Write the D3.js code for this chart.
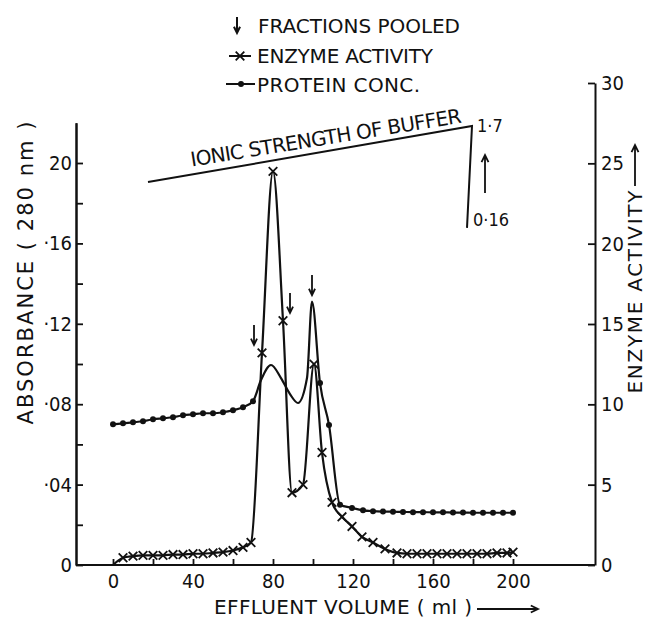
<!DOCTYPE html>
<html><head><meta charset="utf-8">
<script src="https://cdn.jsdelivr.net/npm/d3@7"></script>
<style>
html,body{margin:0;padding:0;background:#fff;}
svg{display:block;}
text{font-family:"DejaVu Sans","Noto Sans",sans-serif;fill:#111;}
.tick text{font-family:"DejaVu Sans Condensed","DejaVu Sans",sans-serif;}
</style>
</head><body>
<svg id="c" width="647" height="627"></svg>
<script>
// ---------- data ----------
const proteinVolume = [0,5,10,15,20,25,30,35,40,45,50,55,60,65,70,74,79,84,88.5,92.5,97,99.5,103.5,108,113.5,119.5,125,130,135,140,145,150,155,160,165,170,175,180,185,190,195,200];
const proteinAbsorbance = [0.070,0.0705,0.071,0.0715,0.0725,0.073,0.0735,0.0745,0.075,0.0755,0.0755,0.076,0.077,0.0785,0.0815,0.092,0.0995,0.093,0.085,0.0806,0.093,0.131,0.0905,0.0697,0.030,0.0284,0.0272,0.0268,0.0266,0.0265,0.0264,0.0263,0.0263,0.0262,0.0262,0.0261,0.0261,0.026,0.026,0.026,0.026,0.026];
// fractions shown with a dot marker (the peak region is drawn as a plain curve)
const proteinMarkedRange = [[0,70],[103,200]];

const enzymeVolume = [0,5,10,15,20,25,30,35,40,45,50,55,60,65,69,74.5,80,85,89.5,95,100.5,104.5,109.5,114.5,119.5,124.5,130,136,142,147,152,157,162,167,172,177,182,187,192,197,200];
const enzymeActivity = [0,0.45,0.55,0.6,0.6,0.6,0.65,0.65,0.7,0.7,0.75,0.8,0.9,1.1,1.4,13.2,24.5,15.2,4.5,5.0,12.5,7.0,3.9,3.0,2.4,1.75,1.4,1.0,0.75,0.7,0.7,0.7,0.7,0.7,0.7,0.7,0.7,0.7,0.75,0.75,0.8];

const xTicks = [0,40,80,120,160,200];
const xMinorTicks = [20,60,100,140,180];
const leftTicks = [0,0.04,0.08,0.12,0.16,0.20];
const leftTickLabels = ["0","·04","·08","·12","·16","20"];
const leftMinorTicks = [0.02,0.06,0.10,0.14,0.18];
const rightTicks = [0,5,10,15,20,25,30];

const fractionVolume = [70.5,88.5,99.5];
const fractionAbsorbance = [0.1095,0.1254,0.1343];

const ionicVolume = [17.5,179.5,177];
const ionicAbsorbance = [0.1905,0.2184,0.1677];
const ionicLabels = ["1·7","0·16"];

const legendLabels = ["FRACTIONS POOLED","ENZYME ACTIVITY","PROTEIN CONC."];
const xTitle = "EFFLUENT VOLUME ( ml )";
const leftTitle = "ABSORBANCE ( 280 nm )";
const rightTitle = "ENZYME  ACTIVITY";
const ionicTitle = "IONIC STRENGTH OF BUFFER";

// ---------- layout ----------
const svg = d3.select("#c");
const ink = "#111";
const axisLeftX = 76, axisRightX = 595, baseY = 565;
const x = d3.scaleLinear().domain([0,200]).range([113,513]);
const yL = d3.scaleLinear().domain([0,0.2]).range([baseY,163]);
const yR = d3.scaleLinear().domain([0,30]).range([baseY,83]);

function styleAxis(g){
  g.selectAll("path.domain").attr("stroke",ink).attr("stroke-width",2);
  g.selectAll(".tick line").attr("stroke",ink).attr("stroke-width",1.8);
  g.selectAll(".tick text").attr("fill",ink).attr("font-size",20);
}

// left axis (ticks inward)
const yLfull = yL.copy().domain([0,0.22]).range([baseY, yL(0.22)]);
svg.append("g").attr("transform",`translate(${axisLeftX},0)`)
  .call(d3.axisLeft(yLfull).tickValues(leftTicks).tickSizeInner(-7).tickSizeOuter(0).tickPadding(4)
    .tickFormat((d,i)=>leftTickLabels[i]))
  .call(styleAxis);
svg.append("g").attr("transform",`translate(${axisLeftX},0)`)
  .call(d3.axisLeft(yLfull).tickValues(leftMinorTicks).tickSizeInner(-7).tickSizeOuter(0).tickFormat(""))
  .call(styleAxis);

// right axis
svg.append("g").attr("transform",`translate(${axisRightX},0)`)
  .call(d3.axisRight(yR).tickValues(rightTicks).tickSizeInner(-7).tickSizeOuter(0).tickPadding(6)
    .tickFormat(d3.format("d")))
  .call(styleAxis);

// bottom axis
svg.append("line").attr("x1",axisLeftX).attr("x2",axisRightX).attr("y1",baseY).attr("y2",baseY)
  .attr("stroke",ink).attr("stroke-width",2);
const gx = svg.append("g").attr("transform",`translate(0,${baseY})`)
  .call(d3.axisBottom(x).tickValues(xTicks).tickSizeInner(-6).tickSizeOuter(0).tickPadding(9).tickFormat(d3.format("d")))
  .call(styleAxis);
gx.select("path.domain").remove();
const gxm = svg.append("g").attr("transform",`translate(0,${baseY})`)
  .call(d3.axisBottom(x).tickValues(xMinorTicks).tickSizeInner(-6).tickSizeOuter(0).tickFormat(""))
  .call(styleAxis);
gxm.select("path.domain").remove();

// titles
svg.append("text").attr("x",214).attr("y",614).attr("font-size",20)
  .attr("textLength",258).attr("lengthAdjust","spacing").text(xTitle);
function arrowPath(x1,y1,x2,y2,h){
  const a = Math.atan2(y2-y1,x2-x1), s=0.45;
  return `M${x1},${y1}L${x2},${y2}M${x2-h*Math.cos(a-s)},${y2-h*Math.sin(a-s)}L${x2},${y2}L${x2-h*Math.cos(a+s)},${y2-h*Math.sin(a+s)}`;
}
svg.append("path").attr("d",arrowPath(477,609,538,609,8)).attr("stroke",ink).attr("stroke-width",1.8).attr("fill","none");

svg.append("text").attr("transform","translate(33,273) rotate(-90)").attr("text-anchor","middle")
  .attr("font-size",21).attr("textLength",303).attr("lengthAdjust","spacing").text(leftTitle);
svg.append("text").attr("transform","translate(642,292) rotate(-90)").attr("text-anchor","middle")
  .attr("font-size",20).attr("textLength",203).attr("lengthAdjust","spacing").text(rightTitle);
svg.append("path").attr("d",arrowPath(635,186,635,145,8)).attr("stroke",ink).attr("stroke-width",1.8).attr("fill","none");

// ionic strength line
const ionicPts = ionicVolume.map((v,i)=>[x(v),yL(ionicAbsorbance[i])]);
svg.append("path").attr("d",d3.line()(ionicPts)).attr("stroke",ink).attr("stroke-width",2).attr("fill","none");
const ang = Math.atan2(ionicPts[1][1]-ionicPts[0][1], ionicPts[1][0]-ionicPts[0][0])*180/Math.PI;
{
  const t = 0.135;
  const px = ionicPts[0][0] + t*(ionicPts[1][0]-ionicPts[0][0]);
  const py = ionicPts[0][1] + t*(ionicPts[1][1]-ionicPts[0][1]) - 8;
  svg.append("text").attr("transform",`translate(${px},${py}) rotate(${ang+0.6})`)
    .attr("font-size",20).attr("textLength",274).attr("lengthAdjust","spacing").text(ionicTitle);
}
svg.append("text").attr("x",ionicPts[1][0]+5).attr("y",ionicPts[1][1]+6).attr("font-size",18)
  .style("font-family","'DejaVu Sans Condensed','DejaVu Sans',sans-serif").text(ionicLabels[0]);
svg.append("text").attr("x",ionicPts[2][0]+6).attr("y",ionicPts[2][1]-2).attr("font-size",18)
  .style("font-family","'DejaVu Sans Condensed','DejaVu Sans',sans-serif").text(ionicLabels[1]);
svg.append("path").attr("d",arrowPath(ionicPts[1][0]+13,ionicPts[2][1]-35,ionicPts[1][0]+13,ionicPts[1][1]+29,8))
  .attr("stroke",ink).attr("stroke-width",1.8).attr("fill","none");

// curves
const protein = proteinVolume.map((v,i)=>[v,proteinAbsorbance[i]]);
const enzyme = enzymeVolume.map((v,i)=>[v,enzymeActivity[i]]);
svg.append("path").datum(protein)
  .attr("d",d3.line().x(d=>x(d[0])).y(d=>yL(d[1])).curve(d3.curveMonotoneX))
  .attr("stroke",ink).attr("stroke-width",2.2).attr("fill","none");
svg.append("path").datum(enzyme)
  .attr("d",d3.line().x(d=>x(d[0])).y(d=>yR(d[1])).curve(d3.curveMonotoneX))
  .attr("stroke",ink).attr("stroke-width",2.2).attr("fill","none");

const marked = protein.filter(d=>proteinMarkedRange.some(r=>d[0]>=r[0]&&d[0]<=r[1]));
svg.append("g").selectAll("circle").data(marked).join("circle")
  .attr("cx",d=>x(d[0])).attr("cy",d=>yL(d[1])).attr("r",3).attr("fill",ink);
const star = d3.symbol().type(d3.symbolTimes).size(50);
svg.append("g").selectAll("path").data(enzyme.slice(1)).join("path")
  .attr("transform",d=>`translate(${x(d[0])},${yR(d[1])})`).attr("d",star)
  .attr("stroke",ink).attr("stroke-width",1.8).attr("fill","none");

// fraction arrows
fractionVolume.forEach((v,i)=>{
  const xx = x(v), yy = yL(fractionAbsorbance[i]);
  svg.append("path").attr("d",arrowPath(xx,yy-20,xx,yy,7)).attr("stroke",ink).attr("stroke-width",1.8).attr("fill","none");
});

// legend
svg.append("path").attr("d",arrowPath(237,17,237,33,7)).attr("stroke",ink).attr("stroke-width",2).attr("fill","none");
svg.append("text").attr("x",258).attr("y",33).attr("font-size",20).attr("textLength",202).attr("lengthAdjust","spacing").text(legendLabels[0]);
svg.append("line").attr("x1",229).attr("x2",251).attr("y1",56).attr("y2",56).attr("stroke",ink).attr("stroke-width",2);
svg.append("path").attr("transform","translate(240,56)").attr("d",star).attr("stroke",ink).attr("stroke-width",1.8).attr("fill","none");
svg.append("text").attr("x",257).attr("y",63).attr("font-size",20).attr("textLength",176).attr("lengthAdjust","spacing").text(legendLabels[1]);
svg.append("line").attr("x1",226).attr("x2",255).attr("y1",84).attr("y2",84).attr("stroke",ink).attr("stroke-width",2);
svg.append("circle").attr("cx",241).attr("cy",84).attr("r",3).attr("fill",ink);
svg.append("text").attr("x",257).attr("y",92).attr("font-size",20).attr("textLength",163).attr("lengthAdjust","spacing").text(legendLabels[2]);
</script>
</body></html>
